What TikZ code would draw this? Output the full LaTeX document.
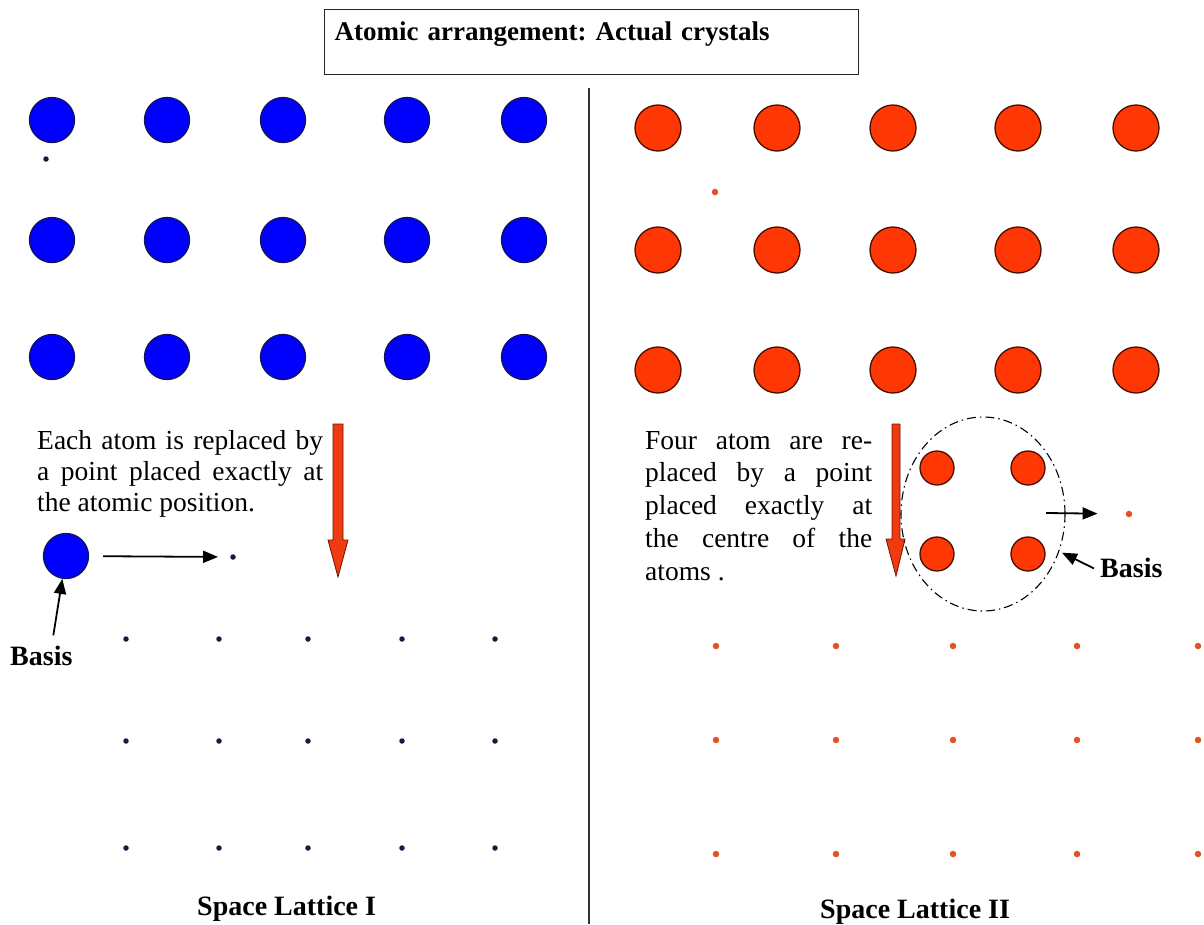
\documentclass[tikz,border=0pt]{standalone}
\usepackage{fontspec}
\setmainfont{Liberation Serif}
\usetikzlibrary{arrows.meta,shapes.geometric}
\definecolor{atomblue}{RGB}{0,0,255}
\definecolor{bedge}{RGB}{20,20,90}
\definecolor{atomred}{RGB}{255,55,5}
\definecolor{redge}{RGB}{70,15,0}
\definecolor{dotblue}{RGB}{25,25,70}
\definecolor{dotred}{RGB}{228,80,40}
\definecolor{arrowred}{RGB}{240,58,15}
\definecolor{arrowedge}{RGB}{110,20,0}
\frenchspacing
\begin{document}
\begin{tikzpicture}[x=1pt,y=-1pt,
  batom/.style={circle,draw=bedge,fill=atomblue,line width=1.3pt,minimum size=45pt,inner sep=0pt},
  ratom/.style={circle,draw=redge,fill=atomred,line width=1.3pt,minimum size=46pt,inner sep=0pt},
  sratom/.style={circle,draw=redge,fill=atomred,line width=1.3pt,minimum size=34pt,inner sep=0pt},
  bdot/.style={circle,fill=dotblue,inner sep=0pt,minimum size=5.5pt},
  rdot/.style={circle,fill=dotred,inner sep=0pt,minimum size=6.5pt},
  desc/.style={inner sep=0pt,align=justify,anchor=north west},
  lbl/.style={inner sep=0pt,anchor=base west,font=\fontsize{28}{32}\selectfont\bfseries},
  conn/.style={-{Triangle[length=15pt,width=12pt]},line width=1.8pt,black},
  bigarrow/.style={fill=arrowred,draw=arrowedge,line width=0.8pt,line join=miter},
  divider/.style={draw=black!80,line width=1.5pt}
]
\useasboundingbox (0,0) rectangle (1204,924);
\fill[white] (0,0) rectangle (1204,924);

% title
\node[draw=black!85,line width=1.3pt,anchor=north west,inner xsep=10pt,inner ysep=0pt,
      text width=514pt,text height=31pt,text depth=34pt,align=left,
      font=\fontsize{27}{31}\selectfont\bfseries] (title) at (324,9) {Atomic arrangement: Actual crystals};

% divider
\coordinate (dtop) at (589,88);
\coordinate (dbot) at (589,924);
\draw[divider] (dtop) -- (dbot);

% blue atoms
\foreach \c/\x in {1/52,2/167,3/283,4/407,5/524}{
  \foreach \r/\y in {1/120,2/240,3/357}{
    \node[batom] (b\r\c) at (\x,\y) {};
  }
}
\node[bdot] (bsd) at (46,159) {};

% red atoms
\foreach \c/\x in {1/658,2/777,3/893,4/1018,5/1136}{
  \foreach \r/\y in {1/128,2/250,3/370}{
    \node[ratom] (r\r\c) at (\x,\y) {};
  }
}
\node[rdot] (rsd) at (715,192) {};

% left explanation
\node[desc,text width=286pt,font=\fontsize{27.5}{31}\selectfont] (ltext) at (37,430)
  {Each atom is replaced by\linebreak a point placed exactly at\linebreak the atomic position.};
\draw[bigarrow] (333,424) -- (343,424) -- (343,540) -- (348,540) -- (338,577) -- (328,540) -- (333,540) -- cycle;

\node[batom] (ba) at (66,556) {};
\node[bdot] (bd) at (233,557) {};
\draw[conn,shorten <=14pt,shorten >=12pt] (ba) -- (bd);
\node[lbl] (bl) at (10,665) {Basis};
\draw[conn] ([shift={(12,-10)}]bl.north) -- (ba);

% left lattice
\foreach \c/\x in {1/126,2/219,3/308,4/402,5/495}{
  \foreach \r/\y in {1/639,2/741,3/848}{
    \node[bdot] (lp\r\c) at (\x,\y) {};
  }
}
\node[lbl] (sl1) at (197,915) {Space Lattice I};

% right explanation
\node[desc,text width=227pt,font=\fontsize{27.5}{32.7}\selectfont] (rtext) at (645,431)
  {Four atom are re-\linebreak placed by a point\linebreak placed exactly at\linebreak the centre of the\linebreak atoms .};
\draw[bigarrow] (892,424) -- (900,424) -- (900,539) -- (905,539) -- (896,576) -- (886,539) -- (892,539) -- cycle;

\node[ellipse,draw=black,line width=1.1pt,dash pattern=on 9pt off 4pt on 1.5pt off 4pt,
      minimum width=164pt,minimum height=194pt,inner sep=0pt] (ell) at (983,514) {};
\node[sratom] (q1) at (937,468) {};
\node[sratom] (q2) at (1028,468) {};
\node[sratom] (q3) at (937,554) {};
\node[sratom] (q4) at (1028,554) {};
\coordinate (rs) at (1046,513);
\node[rdot] (rd) at (1129,514) {};
\draw[conn,shorten >=28pt] (rs) -- (rd);
\node[lbl] (rb) at (1100,577) {Basis};
\draw[conn,shorten >=3pt] ([xshift=-6pt,yshift=-1pt]rb.west) -- (ell);

% right lattice
\foreach \c/\x in {1/716,2/836,3/953,4/1077,5/1198}{
  \foreach \r/\y in {1/646,2/740,3/854}{
    \node[rdot] (rp\r\c) at (\x,\y) {};
  }
}
\node[lbl] (sl2) at (820,918) {Space Lattice II};
\end{tikzpicture}
\end{document}
